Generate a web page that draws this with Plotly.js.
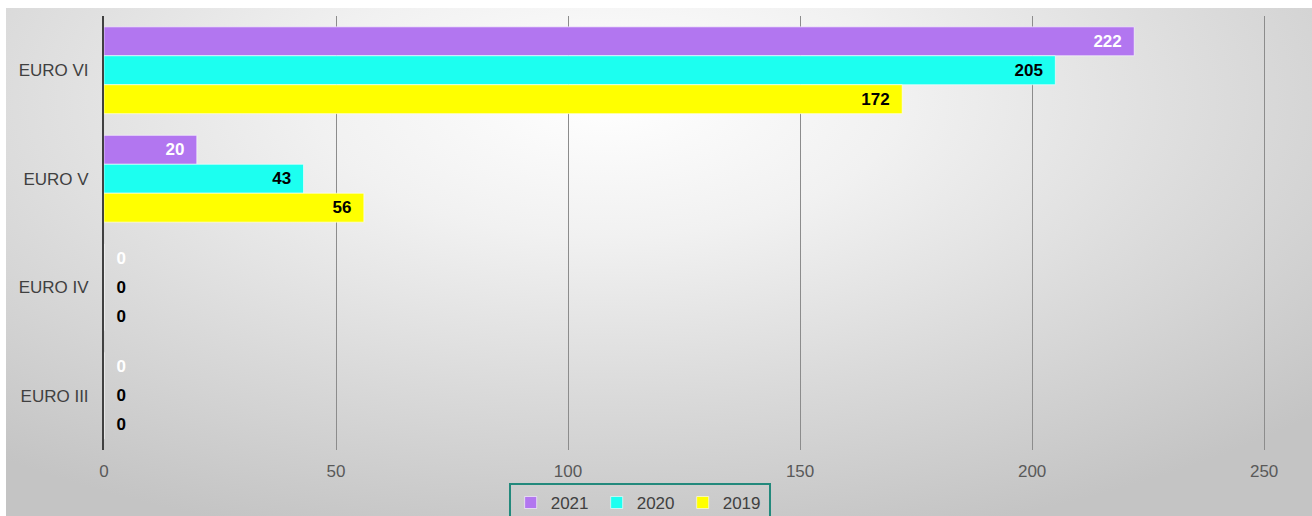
<!DOCTYPE html>
<html>
<head>
<meta charset="utf-8">
<script src="https://cdn.plot.ly/plotly-3.0.1.min.js"></script>
<style>
  html, body { margin: 0; padding: 0; background: #ffffff; width: 1312px; height: 516px; overflow: hidden; }
  #bg { position: absolute; left: 6px; top: 8px; width: 1306px; height: 508px;
        background: radial-gradient(ellipse 75% 90% at 46% 18%, #ffffff 0%, #f1f1f1 30%, #dadada 65%, #c4c4c4 100%); }
  #chart { position: absolute; left: 0; top: 0; width: 1312px; height: 516px; }
</style>
</head>
<body>
<div id="bg"></div>
<div id="chart"></div>
<script>
const categories = ['EURO VI', 'EURO V', 'EURO IV', 'EURO III'];
const seriesNames = ['2021', '2020', '2019'];
const values2021 = [222, 20, 0, 0];
const values2020 = [205, 43, 0, 0];
const values2019 = [172, 56, 0, 0];
const xTicks = [0, 50, 100, 150, 200, 250];

const colors = ['#b276f0', '#1cfff0', '#ffff00'];
const textColors = ['#ffffff', '#000000', '#000000'];
const allValues = [values2021, values2020, values2019];
const NB = '\u00a0';

const traces = allValues.map((vals, i) => ({
  type: 'bar',
  orientation: 'h',
  name: seriesNames[i],
  y: categories,
  x: vals,
  text: vals.map(v => v === 0 ? NB + NB + v : v + NB + NB),
  textposition: vals.map(v => v === 0 ? 'outside' : 'inside'),
  insidetextanchor: 'end',
  textangle: 0,
  constraintext: 'none',
  cliponaxis: false,
  textfont: { family: 'Liberation Sans, Arial, sans-serif', size: 17, color: textColors[i], weight: 'bold' },
  marker: { color: colors[i], line: { color: 'rgba(255,255,255,0.6)', width: 1 } },
  hoverinfo: 'x+name'
}));

const layout = {
  width: 1312,
  height: 516,
  margin: { l: 104, r: 46, t: 16, b: 66, autoexpand: false },
  paper_bgcolor: 'rgba(0,0,0,0)',
  plot_bgcolor: 'rgba(0,0,0,0)',
  barmode: 'group',
  bargap: 0.2,
  bargroupgap: 0,
  font: { family: 'Liberation Sans, Arial, sans-serif', size: 17, color: '#404040' },
  xaxis: {
    range: [0, 250.4],
    tickvals: xTicks,
    ticktext: xTicks.map(String),
    showgrid: true,
    gridcolor: '#8c8c8c',
    gridwidth: 1,
    zeroline: false,
    showline: false,
    ticks: '',
    tickfont: { size: 17, color: '#595959' },
    ticklabelstandoff: 9,
    automargin: false,
    fixedrange: true
  },
  yaxis: {
    type: 'category',
    categoryorder: 'array',
    categoryarray: categories,
    autorange: 'reversed',
    showline: true,
    linecolor: '#404040',
    linewidth: 2,
    showgrid: false,
    zeroline: false,
    ticks: '',
    ticklabelstandoff: 10,
    tickfont: { size: 17, color: '#404040' },
    automargin: false,
    fixedrange: true
  },
  showlegend: true,
  legend: {
    orientation: 'h',
    x: 0.461,
    xanchor: 'center',
    yref: 'container',
    y: 0.064,
    yanchor: 'top',
    bordercolor: '#23897c',
    borderwidth: 2,
    bgcolor: 'rgba(0,0,0,0)',
    font: { size: 17, color: '#404040' },
    itemwidth: 30,
    entrywidth: 41,
    traceorder: 'normal'
  }
};

Plotly.newPlot('chart', traces, layout, { displayModeBar: false, staticPlot: true });
</script>
</body>
</html>
